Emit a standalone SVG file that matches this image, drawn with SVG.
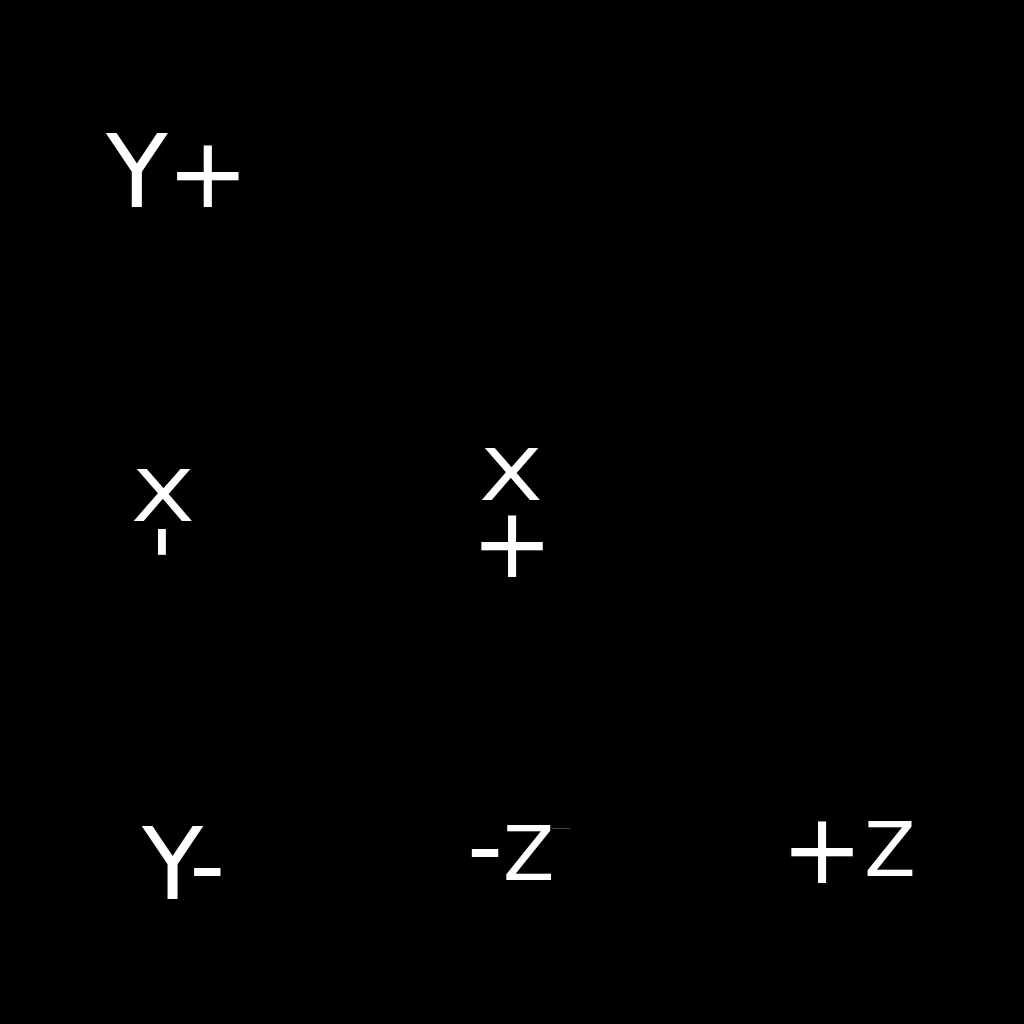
<svg xmlns="http://www.w3.org/2000/svg" width="1024" height="1024" viewBox="0 0 1024 1024">
<style>
text{font-family:"DejaVu Sans","Liberation Sans",sans-serif;fill:#fff}
.big{font-size:98px}
.mid{font-size:75px}
</style>
<rect width="1024" height="1024" fill="#000"/>
<g id="y-plus">
<text x="106" y="207" style="font-size:101px">Y<tspan class="big" dx="-1">+</tspan></text>
</g>
<g id="x-minus">
<text transform="translate(131,521) scale(1.24,0.96)" x="0" y="0" style="font-size:75px">X</text>
<text class="big" transform="translate(161.5,542) rotate(90)" x="0" y="27" text-anchor="middle">-</text>
</g>
<g id="x-plus">
<text transform="translate(479,500) scale(1.24,0.96)" x="0" y="0" style="font-size:75px">X</text>
<text class="big" x="471" y="577">+</text>
</g>
<g id="y-minus">
<text x="142" y="899" style="font-size:100px">Y<tspan dx="-2">-</tspan></text>
</g>
<g id="z-minus">
<text x="467" y="880" style="font-size:100px">-<tspan class="mid">Z</tspan></text>
<line x1="552" y1="828.5" x2="570" y2="828.5" stroke="#444" stroke-width="1"/>
</g>
<g id="z-plus">
<text class="big" x="781" y="883">+<tspan class="mid" dx="1" dy="-7">Z</tspan></text>
</g>
</svg>
